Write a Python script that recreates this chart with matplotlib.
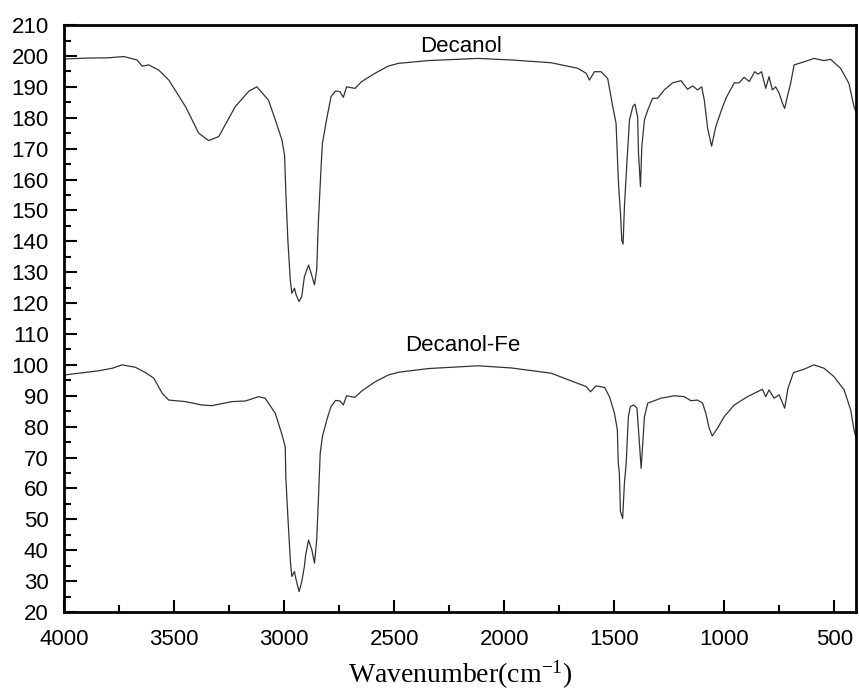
import matplotlib
matplotlib.use("Agg")
import matplotlib.pyplot as plt
from matplotlib.ticker import MultipleLocator


# Spectrum traces (wavenumber, transmittance-ish offset units)
decanol_wn = [4000, 3900, 3800, 3728, 3668, 3645, 3615, 3569, 3524, 3448, 3388, 3343, 3297,
              3222, 3160, 3124, 3071, 3040, 3010, 2998, 2992, 2983, 2972, 2965, 2953, 2945,
              2932, 2920, 2908, 2889, 2877, 2862, 2852, 2844, 2832, 2826, 2806, 2787, 2766,
              2746, 2731, 2716, 2678, 2648, 2587, 2527, 2481, 2345, 2119, 1968, 1787, 1666,
              1628, 1613, 1590, 1560, 1530, 1515, 1507, 1492, 1481, 1472, 1466, 1460, 1454,
              1442, 1431, 1416, 1406, 1394, 1390, 1381, 1375, 1363, 1348, 1326, 1303, 1273,
              1235, 1197, 1167, 1144, 1122, 1103, 1091, 1076, 1058, 1039, 1016, 993, 955, 933,
              910, 887, 862, 847, 831, 812, 797, 782, 767, 751, 736, 726, 714, 699, 683, 638,
              593, 547, 517, 472, 434, 411, 400]
decanol_t = [199.0, 199.3, 199.4, 199.8, 198.7, 196.7, 197.1, 195.4, 192.2, 183.6, 175.0, 172.6,
             173.9, 183.6, 188.6, 190.0, 185.7, 179.3, 172.8, 167.9, 155.5, 140.4, 127.5, 123.2,
             124.8, 122.6, 120.5, 122.1, 128.5, 132.3, 129.6, 125.9, 130.7, 146.9, 164.1, 171.7,
             179.8, 186.8, 188.7, 188.4, 186.6, 190.0, 189.5, 191.7, 194.4, 196.7, 197.6, 198.5,
             199.2, 198.7, 197.8, 196.0, 194.4, 192.2, 194.9, 194.9, 192.7, 186.8, 183.6, 178.2,
             158.8, 149.1, 140.4, 139.1, 151.2, 166.3, 179.3, 183.6, 184.4, 180.3, 168.5, 157.7,
             170.6, 179.3, 182.5, 186.3, 186.3, 189.0, 191.3, 192.0, 189.2, 190.3, 189.0, 190.0,
             185.7, 176.6, 170.8, 177.1, 181.9, 186.3, 191.3, 191.3, 193.1, 191.7, 194.9, 194.1,
             194.9, 189.5, 193.3, 189.0, 190.0, 187.9, 184.7, 183.0, 186.8, 191.1, 197.1, 198.1,
             199.2, 198.5, 198.9, 196.0, 191.1, 183.6, 181.5]

decanol_fe_wn = [4000, 3841, 3781, 3736, 3675, 3630, 3592, 3554, 3524, 3448, 3373, 3328, 3237,
                 3176, 3116, 3086, 3040, 3010, 2995, 2992, 2983, 2972, 2965, 2953, 2947, 2932,
                 2920, 2908, 2902, 2889, 2874, 2862, 2852, 2844, 2836, 2826, 2806, 2787, 2766,
                 2746, 2731, 2716, 2678, 2648, 2587, 2527, 2481, 2345, 2119, 1968, 1787, 1666,
                 1628, 1608, 1583, 1544, 1522, 1499, 1486, 1482, 1477, 1472, 1462, 1454, 1446,
                 1436, 1427, 1412, 1397, 1390, 1378, 1363, 1348, 1318, 1288, 1227, 1182, 1152,
                 1122, 1099, 1084, 1069, 1055, 1031, 1001, 955, 895, 864, 827, 812, 797, 774,
                 751, 726, 711, 686, 638, 593, 547, 502, 456, 426, 411, 400]
decanol_fe_t = [96.7, 98.1, 98.9, 100.0, 99.2, 97.5, 95.7, 90.8, 88.6, 88.1, 87.0, 86.8, 88.1,
                88.3, 89.7, 89.2, 84.3, 77.5, 73.5, 63.3, 50.9, 36.9, 31.5, 33.1, 30.9, 26.6,
                29.8, 34.7, 38.5, 43.3, 40.1, 35.8, 43.3, 56.8, 71.4, 76.8, 82.2, 86.5, 88.5,
                88.3, 87.0, 90.0, 89.5, 91.5, 94.5, 96.7, 97.6, 98.8, 99.7, 99.0, 97.3, 94.0,
                93.0, 91.3, 93.2, 92.7, 89.7, 84.3, 78.9, 68.1, 64.9, 52.5, 50.3, 61.7, 68.1,
                83.2, 86.5, 87.0, 86.0, 78.9, 66.5, 83.2, 87.6, 88.4, 89.2, 90.0, 89.7, 88.4,
                88.6, 87.6, 84.3, 79.5, 77.0, 79.5, 83.2, 87.0, 89.7, 90.8, 92.1, 89.7, 91.9,
                89.2, 90.3, 86.0, 92.4, 97.5, 98.6, 100.0, 98.9, 96.2, 91.9, 85.4, 78.9, 76.0]

series_labels = ["Decanol", "Decanol-Fe"]
label_pos = [(2195, 202.9), (2190, 106.4)]


def main():
    plt.rcParams['font.family'] = ['Liberation Sans', 'DejaVu Sans']
    plt.rcParams['mathtext.fontset'] = 'stix'

    fig = plt.figure(figsize=(8.59, 6.96), dpi=100)
    ax = fig.add_axes([0.0745, 0.1207, 0.9225, 0.8433])

    line_color = '#333333'
    ax.plot(decanol_wn, decanol_t, color=line_color, lw=0.9)
    ax.plot(decanol_fe_wn, decanol_fe_t, color=line_color, lw=0.9)

    for name, (x, y) in zip(series_labels, label_pos):
        ax.text(x, y, name, ha='center', va='center', fontsize=16, color='black')

    ax.set_xlim(4000, 400)
    ax.set_ylim(20, 210)
    ax.xaxis.set_major_locator(MultipleLocator(500))
    ax.xaxis.set_minor_locator(MultipleLocator(250))
    ax.yaxis.set_major_locator(MultipleLocator(10))
    ax.yaxis.set_minor_locator(MultipleLocator(5))

    ax.tick_params(which='both', direction='in', top=False, right=False, width=1.5)
    ax.tick_params(which='major', length=9, labelsize=16)
    ax.tick_params(axis='x', which='major', pad=12)
    ax.tick_params(axis='y', which='major', pad=11)
    ax.tick_params(which='minor', length=5)
    for spine in ax.spines.values():
        spine.set_linewidth(2)

    ax.set_xlabel('Wavenumber(cm$^{\\mathregular{-1}}$)', family='Liberation Serif',
                  fontsize=20, labelpad=6)

    fig.savefig('out.png', dpi=100)


if __name__ == "__main__":
    main()
